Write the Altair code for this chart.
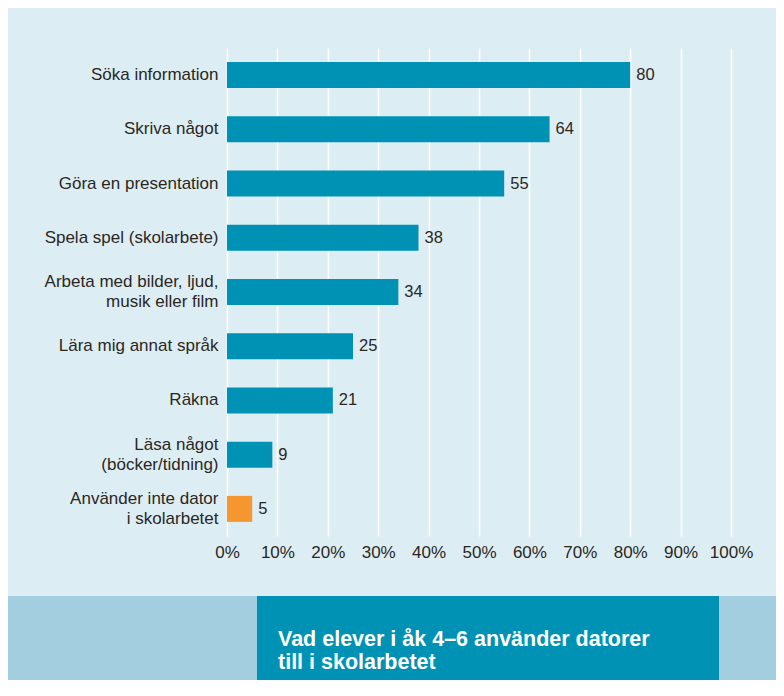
import altair as alt
import pandas as pd

categories = [
    "Söka information",
    "Skriva något",
    "Göra en presentation",
    "Spela spel (skolarbete)",
    "Arbeta med bilder, ljud,|musik eller film",
    "Lära mig annat språk",
    "Räkna",
    "Läsa något|(böcker/tidning)",
    "Använder inte dator|i skolarbetet",
]
values = [80, 64, 55, 38, 34, 25, 21, 9, 5]
groups = ["use"] * 8 + ["none"]
ticks = [0, 10, 20, 30, 40, 50, 60, 70, 80, 90, 100]
title_lines = ["Vad elever i åk 4–6 använder datorer", "till i skolarbetet"]

df = pd.DataFrame({"cat": categories, "val": values, "grp": groups})

TEXT = "#2b271e"
FONT = "Liberation Sans"

y_enc = alt.Y(
    "cat:N",
    sort=categories,
    scale=alt.Scale(paddingInner=0.52, paddingOuter=0.26),
    axis=alt.Axis(
        title=None,
        ticks=False,
        domain=False,
        grid=False,
        labelExpr="split(datum.label, '|')",
        labelFont=FONT,
        labelFontSize=17,
        labelColor=TEXT,
        labelPadding=9,
        labelLineHeight=20,
        labelLimit=300,
        labelOffset={"condition": {"test": "indexof(datum.value, '|') >= 0", "value": -10}, "value": 0},
    ),
)

bars = alt.Chart(df).mark_bar().encode(
    x=alt.X(
        "val:Q",
        scale=alt.Scale(domain=[0, 100], nice=False),
        axis=alt.Axis(
            title=None,
            values=ticks,
            labelExpr="datum.value + '%'",
            labelOverlap=False,
            labelFlush=False,
            ticks=False,
            domain=False,
            grid=True,
            gridColor="#ffffff",
            gridWidth=1.6,
            gridOpacity=1,
            labelFont=FONT,
            labelFontSize=17,
            labelColor=TEXT,
            labelPadding=8,
        ),
    ),
    y=y_enc,
    color=alt.Color(
        "grp:N",
        scale=alt.Scale(domain=["use", "none"], range=["#0092b4", "#f5962f"]),
        legend=None,
    ),
)

labels = alt.Chart(df).mark_text(
    align="left", baseline="middle", dx=6, font=FONT, fontSize=16.5, color=TEXT
).encode(
    x="val:Q",
    y=alt.Y("cat:N", sort=categories),
    text="val:Q",
)

tdf = pd.DataFrame({"t": [title_lines]})

band = alt.Chart(tdf).mark_rect(color="#a2cee0").encode(
    x=alt.value(-219), x2=alt.value(549), y=alt.value(548), y2=alt.value(632)
)
box = alt.Chart(tdf).mark_rect(color="#0092b4").encode(
    x=alt.value(30), x2=alt.value(492), y=alt.value(548), y2=alt.value(632)
)
title_txt = alt.Chart(tdf).mark_text(
    align="left", baseline="alphabetic", font=FONT, fontSize=21.5, fontWeight="bold",
    color="#ffffff", lineHeight=23,
).encode(
    x=alt.value(51), y=alt.value(598), text="t"
)

chart = (
    alt.layer(band, box, title_txt, bars, labels)
    .properties(
        width=504,
        height=488,
        autosize=alt.AutoSizeParams(type="none"),
        padding={"left": 219, "top": 40, "right": 45, "bottom": 144},
        background="#ddedf4",
    )
    .configure_view(stroke=None)
)

chart.save("out.html", embed_options={"renderer": "svg", "actions": False})
